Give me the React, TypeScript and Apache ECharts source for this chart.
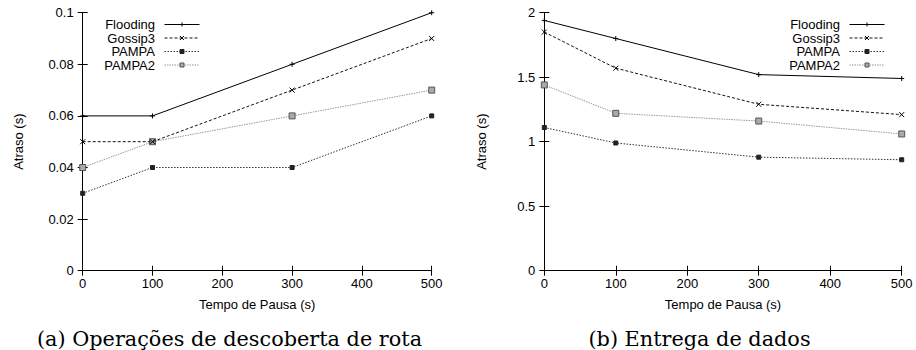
import React, { useEffect, useRef } from "react";
import * as echarts from "echarts";

// ---- Data ----
const pauseTimes = [0, 100, 300, 500];
const seriesNames = ["Flooding", "Gossip3", "PAMPA", "PAMPA2"];

// (a) Route discovery operations delay (s)
const discFlooding = [0.06, 0.06, 0.08, 0.1];
const discGossip3 = [0.05, 0.05, 0.07, 0.09];
const discPampa = [0.03, 0.04, 0.04, 0.06];
const discPampa2 = [0.04, 0.05, 0.06, 0.07];

// (b) Data delivery delay (s)
const delivFlooding = [1.94, 1.8, 1.52, 1.49];
const delivGossip3 = [1.85, 1.57, 1.29, 1.21];
const delivPampa = [1.11, 0.99, 0.88, 0.86];
const delivPampa2 = [1.44, 1.22, 1.16, 1.06];

const xTitle = "Tempo de Pausa (s)";
const yTitle = "Atraso (s)";
const captionA = "(a) Operações de descoberta de rota";
const captionB = "(b) Entrega de dados";

const SANS = "'Liberation Sans', Arial, sans-serif";
const SERIF = "'DejaVu Serif', serif";

const styles = [
  { symbol: "path://M0,5L10,5M5,0L5,10", size: 5, line: "#000", type: "solid" as any, fill: "#000", border: "#000" },
  { symbol: "path://M0,0L10,10M10,0L0,10", size: 5, line: "#111", type: [3, 2] as any, fill: "#000", border: "#000" },
  { symbol: "rect", size: 4, line: "#333", type: [1.5, 1.5] as any, fill: "#222", border: "#222" },
  { symbol: "rect", size: 6, line: "#999", type: [1.5, 1] as any, fill: "#aaa", border: "#555" },
];

function makeSeries(idx: number, values: number[][]) {
  return values.map((vals, i) => ({
    name: seriesNames[i],
    type: "line",
    xAxisIndex: idx * 2,
    yAxisIndex: idx * 2,
    data: pauseTimes.map((x, j) => [x, vals[j]]),
    symbol: styles[i].symbol,
    symbolSize: styles[i].size,
    showSymbol: true,
    lineStyle: { color: styles[i].line, width: 1, type: styles[i].type },
    itemStyle: { color: styles[i].fill, borderColor: styles[i].border, borderWidth: 1 },
    emphasis: { disabled: true },
    z: 10 - i,
  }));
}

function axisCommon(gridIndex: number, min: number, max: number, interval: number) {
  return {
    gridIndex,
    min,
    max,
    interval,
    splitLine: { show: false },
    axisLine: { show: true, lineStyle: { color: "#000", width: 1 } },
    axisTick: { show: true, inside: true, length: 5, lineStyle: { color: "#000" } },
  };
}

export default function App() {
  const ref = useRef<HTMLDivElement>(null);
  useEffect(() => {
    if (!ref.current) return;
    const chart = echarts.init(ref.current, undefined, { renderer: "svg" });
    const labelStyle = { color: "#000", fontFamily: SANS, fontSize: 13 };
    const xAxes: any[] = [];
    const yAxes: any[] = [];
    const yCfg = [
      { min: 0, max: 0.1, interval: 0.02 },
      { min: 0, max: 2, interval: 0.5 },
    ];
    [0, 1].forEach((g) => {
      xAxes.push({
        type: "value",
        ...axisCommon(g, 0, 500, 100),
        position: "bottom",
        axisLabel: { ...labelStyle, margin: 6 },
        name: xTitle,
        nameLocation: "middle",
        nameGap: 27,
        nameTextStyle: { ...labelStyle },
      });
      xAxes.push({
        type: "value",
        ...axisCommon(g, 0, 500, 100),
        position: "top",
        axisLabel: { show: false },
      });
      yAxes.push({
        type: "value",
        ...axisCommon(g, yCfg[g].min, yCfg[g].max, yCfg[g].interval),
        position: "left",
        axisLabel: { ...labelStyle, margin: 9 },
        name: yTitle,
        nameLocation: "middle",
        nameGap: g === 0 ? 58 : 56,
        nameTextStyle: { ...labelStyle },
      });
      yAxes.push({
        type: "value",
        ...axisCommon(g, yCfg[g].min, yCfg[g].max, yCfg[g].interval),
        position: "right",
        axisLabel: { show: false },
      });
    });

    const legendBase = {
      orient: "vertical",
      align: "right",
      top: 18,
      itemWidth: 35,
      itemHeight: 5,
      itemGap: 0.5,
      padding: 0,
      selectedMode: false,
      data: seriesNames,
      lineStyle: { width: 1 },
      itemStyle: { borderWidth: 1 },
      textStyle: {
        color: "#000",
        fontFamily: SANS,
        fontSize: 13,
        lineHeight: 12.5,
        padding: [0, 4.5, 0, 0],
      },
    };

    chart.setOption({
      animation: false,
      backgroundColor: "#fff",
      grid: [
        { left: 82.7, top: 12.7, width: 349, height: 258, show: false },
        { left: 544.3, top: 12.7, width: 357.4, height: 258, show: false },
      ],
      xAxis: xAxes,
      yAxis: yAxes,
      legend: [
        { ...legendBase, right: 716 },
        { ...legendBase, right: 31 },
      ],
      series: [
        ...makeSeries(0, [discFlooding, discGossip3, discPampa, discPampa2]),
        ...makeSeries(1, [delivFlooding, delivGossip3, delivPampa, delivPampa2]),
      ],
      graphic: [
        {
          type: "text",
          x: 229.5,
          y: 339,
          style: {
            text: captionA,
            fontFamily: SERIF,
            fontSize: 20.8,
            fill: "#000",
            align: "center",
            verticalAlign: "middle",
          },
        },
        {
          type: "text",
          x: 699.5,
          y: 339,
          style: {
            text: captionB,
            fontFamily: SERIF,
            fontSize: 20.8,
            fill: "#000",
            align: "center",
            verticalAlign: "middle",
          },
        },
      ],
    });
    return () => chart.dispose();
  }, []);
  return (
    <div
      ref={ref}
      style={{ position: "absolute", left: 0, top: 0, width: 916, height: 350 }}
    />
  );
}
